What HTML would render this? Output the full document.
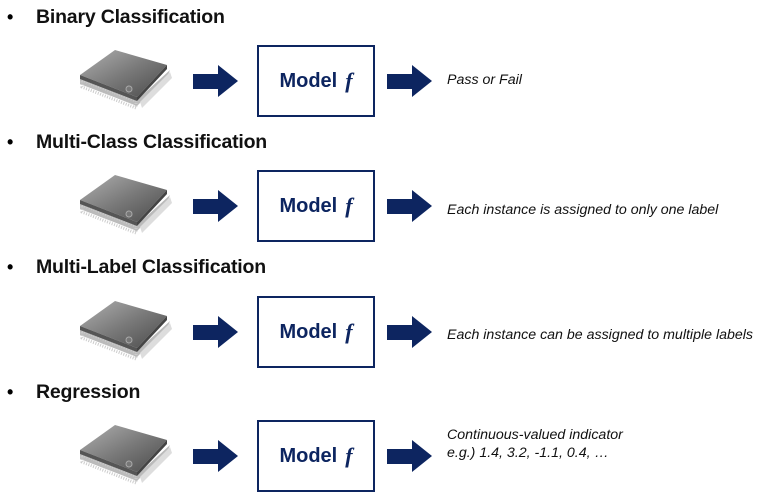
<!DOCTYPE html>
<html><head><style>
body{margin:0;width:773px;height:496px;background:#fff;position:relative;overflow:hidden;font-family:"Liberation Sans",sans-serif}
.h{position:absolute;left:36px;font-weight:bold;font-size:19.5px;color:#111;letter-spacing:-0.2px}
.b{position:absolute;left:7px;font-size:18px;font-weight:bold}
.box{position:absolute;left:257px;width:114px;height:68px;border:2.5px solid #0d2560;color:#0d2560;font-weight:bold;font-size:20px;display:flex;align-items:center;justify-content:center}
.box i{font-family:"Liberation Serif",serif;font-size:22px;margin-left:8px}
.t{position:absolute;left:447px;font-style:italic;font-size:14.2px;color:#111;line-height:18px}
svg{position:absolute;left:0;top:0}
</style></head><body>
<svg width="773" height="496">
<defs>
<linearGradient id="g" x1="0" y1="0" x2="1" y2="1"><stop offset="0" stop-color="#b0b0b0"/><stop offset="0.5" stop-color="#7a7a7a"/><stop offset="1" stop-color="#4a4a4a"/></linearGradient>
<g id="chip">
<polygon points="80,78 137,100 170,70 168,75 137,106 80,84" fill="#bbb"/>
<polygon points="82,80 136,101 136,108 82,87" fill="none" stroke="#ccc" stroke-width="3" stroke-dasharray="1 1.5"/>
<polygon points="140,102 170,72 172,78 142,108" fill="#ddd"/>
<polygon points="80,75 115,50 167,65 137,97" fill="url(#g)"/>
<polygon points="80,75 137,97 137,101 80,79" fill="#555"/>
<polygon points="137,97 167,65 167,69 137,101" fill="#444"/>
<circle cx="129" cy="89" r="3" fill="#777" stroke="#aaa"/>
<polygon points="193,74 218,74 218,65 238,81 218,97 218,89 193,89" fill="#0d2560"/>
<polygon points="387,74 412,74 412,65 432,81 412,97 412,89 387,89" fill="#0d2560"/>
</g>
</defs>
<use href="#chip"/>
<use href="#chip" y="125"/>
<use href="#chip" y="251"/>
<use href="#chip" y="375"/>
</svg>
<div class="b" style="top:7px">•</div><div class="h" style="top:6px">Binary Classification</div>
<div class="b" style="top:132px">•</div><div class="h" style="top:131px">Multi-Class Classification</div>
<div class="b" style="top:257px">•</div><div class="h" style="top:256px">Multi-Label Classification</div>
<div class="b" style="top:382px">•</div><div class="h" style="top:381px">Regression</div>
<div class="box" style="top:45px">Model<i>f</i></div>
<div class="box" style="top:170px">Model<i>f</i></div>
<div class="box" style="top:296px">Model<i>f</i></div>
<div class="box" style="top:420px">Model<i>f</i></div>
<div class="t" style="top:71px">Pass or Fail</div>
<div class="t" style="top:201px">Each instance is assigned to only one label</div>
<div class="t" style="top:326px">Each instance can be assigned to multiple labels</div>
<div class="t" style="top:426px">Continuous-valued indicator<br>e.g.) 1.4, 3.2, -1.1, 0.4, …</div>
</body></html>
